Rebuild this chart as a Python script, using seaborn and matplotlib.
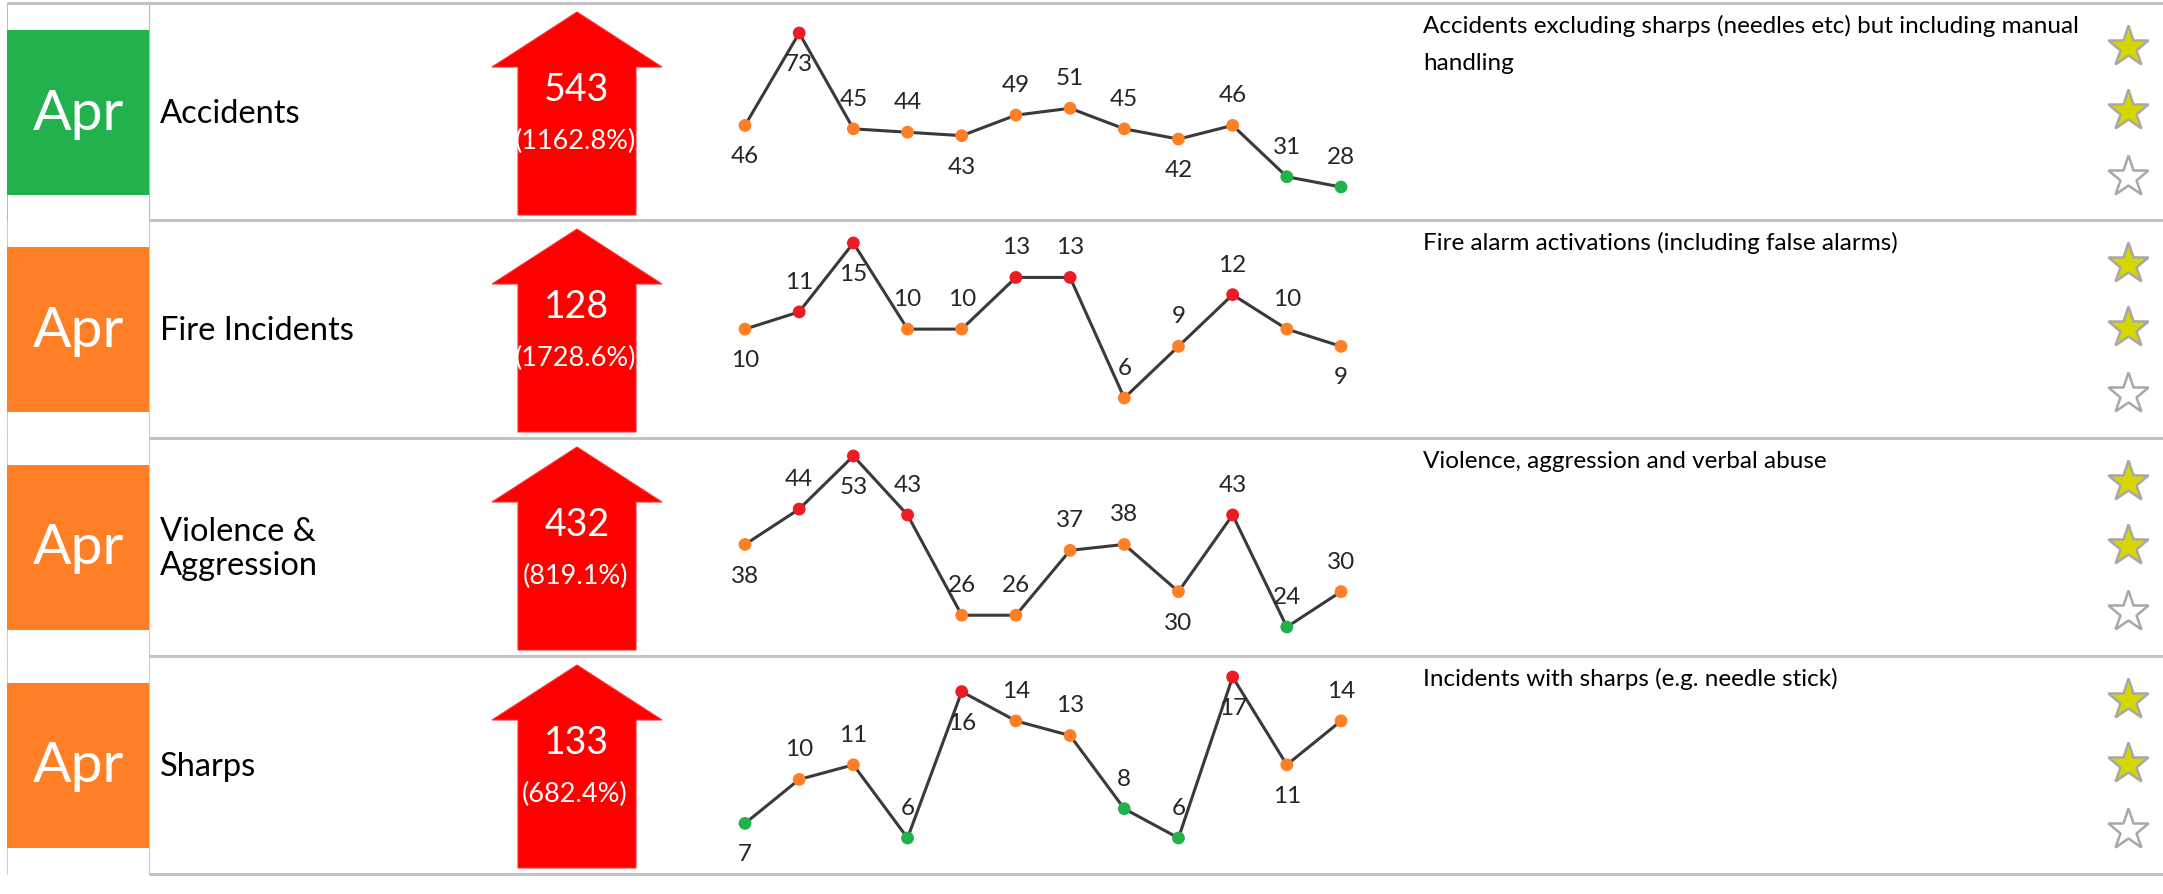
import matplotlib
matplotlib.use("Agg")
import matplotlib.pyplot as plt
import numpy as np
import pandas as pd
import seaborn as sns
from matplotlib.patches import Polygon, Rectangle

# ---- data -------------------------------------------------------------
month = "Apr"
categories = ["Accidents", "Fire Incidents", "Violence &\nAggression", "Sharps"]
month_status = ["green", "amber", "amber", "amber"]
totals = [543, 128, 432, 133]
percent_change = [1162.8, 1728.6, 819.1, 682.4]
descriptions = [
    "Accidents excluding sharps (needles etc) but including manual\nhandling",
    "Fire alarm activations (including false alarms)",
    "Violence, aggression and verbal abuse",
    "Incidents with sharps (e.g. needle stick)",
]
star_ratings = [2, 2, 2, 2]

accidents = [46, 73, 45, 44, 43, 49, 51, 45, 42, 46, 31, 28]
fire = [10, 11, 15, 10, 10, 13, 13, 6, 9, 12, 10, 9]
violence = [38, 44, 53, 43, 26, 26, 37, 38, 30, 43, 24, 30]
sharps = [7, 10, 11, 6, 16, 14, 13, 8, 6, 17, 11, 14]

accidents_status = ["amber", "red", "amber", "amber", "amber", "amber",
                    "amber", "amber", "amber", "amber", "green", "green"]
fire_status = ["amber", "red", "red", "amber", "amber", "red",
               "red", "amber", "amber", "red", "amber", "amber"]
violence_status = ["amber", "red", "red", "red", "amber", "amber",
                   "amber", "amber", "amber", "red", "green", "amber"]
sharps_status = ["green", "amber", "amber", "green", "red", "amber",
                 "amber", "green", "green", "red", "amber", "amber"]

# which side of each point its value label sits on (a = above, b = below)
accidents_side = list("bbaabaaabaaa")
fire_side = list("babaaaaaaaab")
violence_side = list("babaaaaabaaa")
sharps_side = list("baaabaaaabba")

series = [accidents, fire, violence, sharps]
statuses = [accidents_status, fire_status, violence_status, sharps_status]
sides = [accidents_side, fire_side, violence_side, sharps_side]

# ---- styling ----------------------------------------------------------
W, H = 2163, 895
sns.set_theme(style="white")
plt.rcParams["font.family"] = ["Lato", "DejaVu Sans"]

rag = {"red": "#ED1C24", "amber": "#FF7F27", "green": "#22B14C"}
box_col = {"green": "#23B14D", "amber": "#FF7F27"}
grid_col = "#C3C3C3"
line_col = "#3A3A3A"
label_col = "#262626"

row_tops = [4, 221, 439, 657]
row_bottom = 875
spark_x0, spark_x1 = 745, 1341
spark_band = [(30, 184), (23, 178), (18, 189), (21, 182)]

fig = plt.figure(figsize=(W / 100, H / 100), dpi=100)
bg = fig.add_axes([0, 0, 1, 1])
bg.set_xlim(0, W)
bg.set_ylim(H, 0)
bg.axis("off")

row_edges = row_tops + [row_bottom]

for r, top in enumerate(row_tops):
    bottom = row_edges[r + 1]
    bc = box_col[month_status[r]]

    # month cell with thin side borders
    bg.plot([7, 7], [top, bottom], color=bc, lw=0.8, alpha=0.5)
    bg.plot([149, 149], [top, bottom], color=bc, lw=0.8, alpha=0.5)
    bg.add_patch(Rectangle((7, top + 27), 142, 165, facecolor=bc, edgecolor="none"))
    bg.text(78, top + 110, month, color="white", fontsize=41,
            ha="center", va="center")

    # category name
    bg.text(160, top + 110, categories[r], color="black", fontsize=23.5,
            ha="left", va="center", linespacing=1.15)

    # up arrow with total and change
    cx = 577
    arrow = Polygon([(cx, top + 9), (cx + 85, top + 64), (cx + 59, top + 64),
                     (cx + 59, top + 212), (cx - 59, top + 212),
                     (cx - 59, top + 64), (cx - 85, top + 64)],
                    closed=True, facecolor="#FF0000", edgecolor="#FF3030", lw=0.8)
    bg.add_patch(arrow)
    bg.text(cx, top + 86, f"{totals[r]}", color="white", fontsize=27,
            ha="center", va="center")
    bg.text(cx - 2, top + 137, f"({percent_change[r]:.1f}%)", color="white",
            fontsize=19.5, ha="center", va="center")

    # description
    for k, line in enumerate(descriptions[r].split("\n")):
        bg.text(1423, top + 22 + 37 * k, line, color="black", fontsize=17.5,
                ha="left", va="center")

    # rating stars
    for k, sy in enumerate([44, 108, 174]):
        filled = k < star_ratings[r]
        bg.plot(2128, top + sy, marker="*", markersize=31,
                markerfacecolor="#D6D600" if filled else "white",
                markeredgecolor="#A8A8A8", markeredgewidth=1.8)

    # sparkline
    y_top, y_bot = spark_band[r]
    ax = fig.add_axes([spark_x0 / W, 1 - (top + y_bot) / H,
                       (spark_x1 - spark_x0) / W, (y_bot - y_top) / H])
    df = pd.DataFrame({"period": np.arange(len(series[r])),
                       "value": series[r], "status": statuses[r]})
    sns.lineplot(data=df, x="period", y="value", ax=ax, color=line_col, lw=2.2)
    sns.scatterplot(data=df, x="period", y="value", hue="status", palette=rag,
                    ax=ax, s=85, edgecolor="none", legend=False, zorder=3,
                    clip_on=False)
    for i, (v, sd) in enumerate(zip(series[r], sides[r])):
        ax.annotate(f"{v}", (i, v), xytext=(0, 22 if sd == "a" else -22),
                    textcoords="offset points", ha="center", va="center",
                    fontsize=17.5, color=label_col, annotation_clip=False)
    ax.set_xlim(0, len(series[r]) - 1)
    ax.set_ylim(min(series[r]), max(series[r]))
    ax.axis("off")
    for ln in ax.lines:
        ln.set_clip_on(False)

# row separators
bg.plot([7, W], [row_tops[0], row_tops[0]], color=grid_col, lw=2.2,
        solid_capstyle="butt")
for y in row_edges[1:]:
    bg.plot([149, W], [y, y], color=grid_col, lw=2.2, solid_capstyle="butt")

fig.savefig("out.png", dpi=100, facecolor="white")
